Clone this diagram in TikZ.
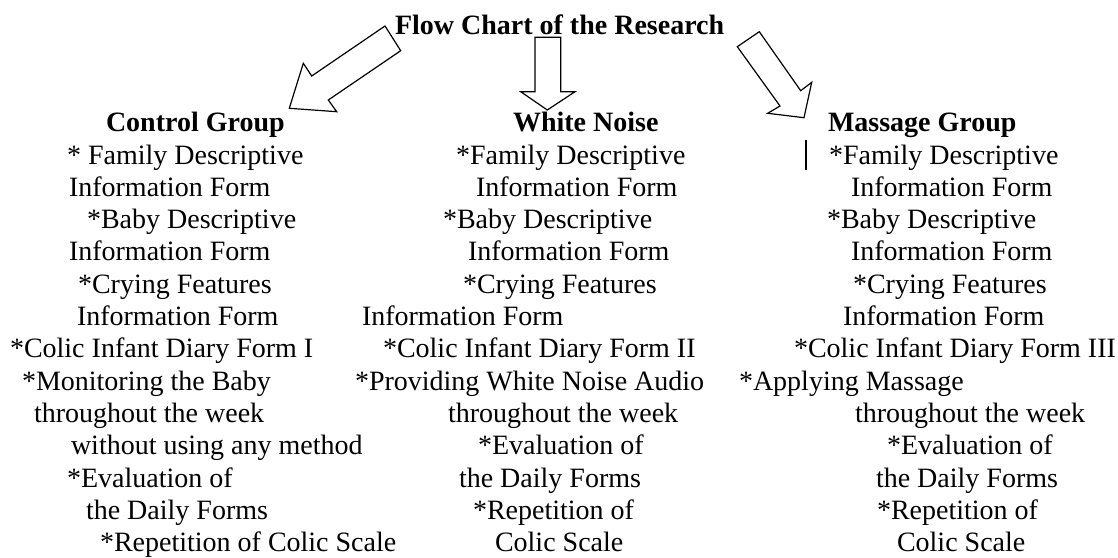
\documentclass[tikz,border=0pt]{standalone}
\usepackage{fontspec}
\setmainfont{Liberation Serif}
\begin{document}
\begin{tikzpicture}[x=1pt,y=-1pt,
  txt/.style={anchor=base west,inner sep=0pt,outer sep=0pt,font=\fontsize{28}{32}\selectfont},
  head/.style={txt,font=\fontsize{28}{32}\selectfont\bfseries},
  blockarrow/.style={draw=black,line width=1.2pt,fill=white,line join=miter}]
\useasboundingbox (0,0) rectangle (1118,557);
\fill[white] (0,0) rectangle (1118,557);

% title
\node[head] (title) at (395,34.3) {Flow Chart of the Research};

% block arrows
\draw[blockarrow] (385,26) -- (400.7,50.7) -- (328.3,100) -- (336.7,111.7) -- (289.3,108.3) -- (303.3,63.3) -- (311.7,76) -- cycle;
\draw[blockarrow] (535,37.3) -- (560.7,37.3) -- (560.7,91.7) -- (575,91.7) -- (547.3,110) -- (520.7,91.7) -- (535,91.7) -- cycle;
\draw[blockarrow] (737.3,46.7) -- (759.3,31.7) -- (800.7,90.7) -- (811.7,82.3) -- (804,117.7) -- (767.7,113.3) -- (780,106) -- cycle;

% Control group
\node[head] (c0) at (106,131.7) {Control Group};
\node[txt] (c1) at (67,164.0) {* Family Descriptive};
\node[txt] (c2) at (69,196.3) {Information Form};
\node[txt] (c3) at (87,228.6) {*Baby Descriptive};
\node[txt] (c4) at (69,260.9) {Information Form};
\node[txt] (c5) at (78,293.2) {*Crying Features};
\node[txt] (c6) at (77,325.5) {Information Form};
\node[txt] (c7) at (10,357.8) {*Colic Infant Diary Form I};
\node[txt] (c8) at (22,390.1) {*Monitoring the Baby};
\node[txt] (c9) at (34,422.4) {throughout the week};
\node[txt] (c10) at (71,454.7) {without using any method};
\node[txt] (c11) at (67,487.0) {*Evaluation of};
\node[txt] (c12) at (86,519.3) {the Daily Forms};
\node[txt] (c13) at (100,551.6) {*Repetition of Colic Scale};

% White noise
\node[head] (w0) at (513,131.7) {White Noise};
\node[txt] (w1) at (456,164.0) {*Family Descriptive};
\node[txt] (w2) at (476,196.3) {Information Form};
\node[txt] (w3) at (443,228.6) {*Baby Descriptive};
\node[txt] (w4) at (468,260.9) {Information Form};
\node[txt] (w5) at (463,293.2) {*Crying Features};
\node[txt] (w6) at (362,325.5) {Information Form};
\node[txt] (w7) at (383,357.8) {*Colic Infant Diary Form II};
\node[txt] (w8) at (355,390.1) {*Providing White Noise Audio};
\node[txt] (w9) at (448,422.4) {throughout the week};
\node[txt] (w10) at (478,454.7) {*Evaluation of};
\node[txt] (w11) at (459,487.0) {the Daily Forms};
\node[txt] (w12) at (473,519.3) {*Repetition of};
\node[txt] (w13) at (495,551.6) {Colic Scale};

% Massage group
\node[head] (m0) at (828,131.7) {Massage Group};
\draw[line width=1.3pt] (806,140) -- (806,170);
\node[txt] (m1) at (829,164.0) {*Family Descriptive};
\node[txt] (m2) at (851,196.3) {Information Form};
\node[txt] (m3) at (827,228.6) {*Baby Descriptive};
\node[txt] (m4) at (851,260.9) {Information Form};
\node[txt] (m5) at (853,293.2) {*Crying Features};
\node[txt] (m6) at (843,325.5) {Information Form};
\node[txt] (m7) at (794,357.8) {*Colic Infant Diary Form III};
\node[txt] (m8) at (739,390.1) {*Applying Massage};
\node[txt] (m9) at (855,422.4) {throughout the week};
\node[txt] (m10) at (887,454.7) {*Evaluation of};
\node[txt] (m11) at (876,487.0) {the Daily Forms};
\node[txt] (m12) at (877,519.3) {*Repetition of};
\node[txt] (m13) at (897,551.6) {Colic Scale};
\end{tikzpicture}
\end{document}
